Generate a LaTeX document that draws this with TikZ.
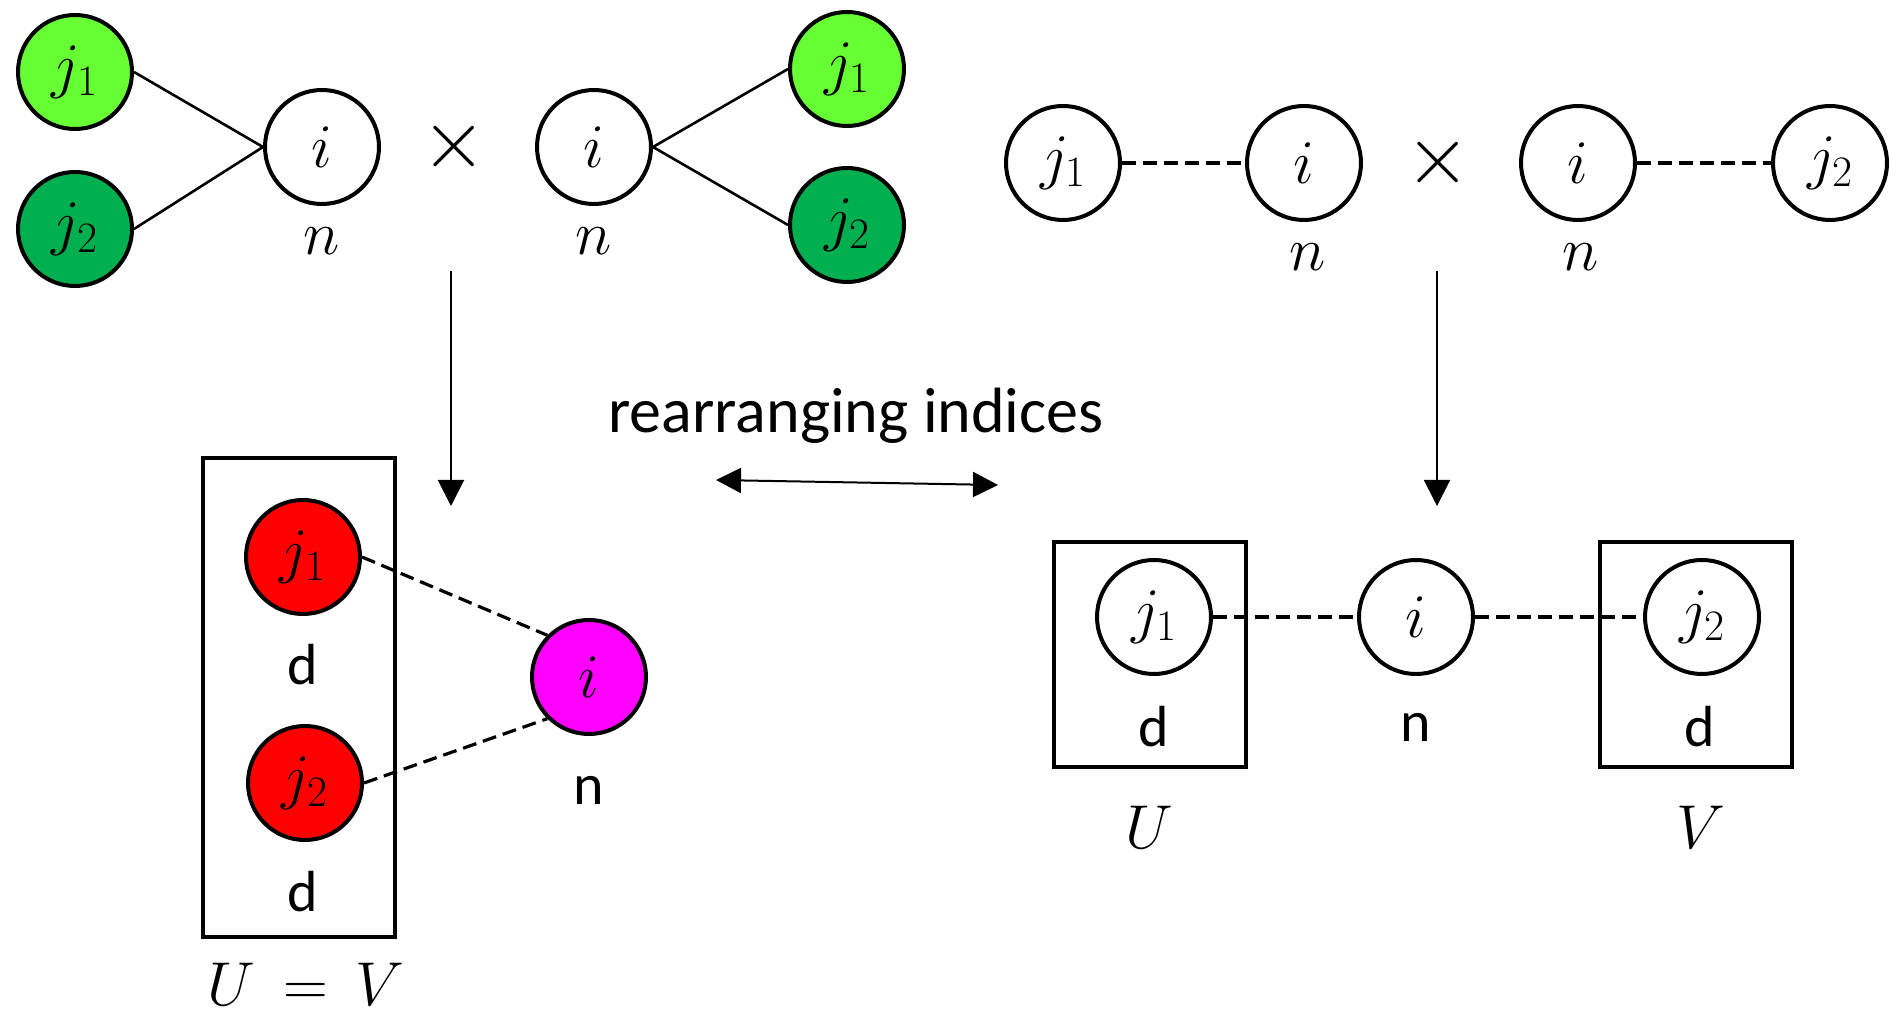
\RequirePackage{fix-cm}
\documentclass[tikz,border=0pt]{standalone}
\usepackage{fontspec}
\setsansfont{Carlito}
\usetikzlibrary{arrows.meta}
\definecolor{lgreen}{RGB}{102,255,51}
\definecolor{dgreen}{RGB}{0,176,80}
\definecolor{mred}{RGB}{255,0,0}
\definecolor{mmag}{RGB}{255,0,255}
\begin{document}
\begin{tikzpicture}[x=0.5pt,y=-0.5pt,
  vnode/.style={circle, draw, line width=2pt, minimum size=57pt, inner sep=0pt, font=\fontsize{31}{31}\selectfont},
  mlab/.style={inner sep=0pt, font=\fontsize{31}{31}\selectfont},
  xlab/.style={inner sep=0pt, font=\fontsize{42}{42}\selectfont},
  slab/.style={inner sep=0pt, font=\sffamily\fontsize{29}{29}\selectfont},
  tlab/.style={inner sep=0pt, font=\sffamily\fontsize{32}{32}\selectfont},
  platebox/.style={draw, line width=2pt, inner sep=0pt},
  solidedge/.style={line width=1.3pt},
  dashedge/.style={line width=1.6pt, dash pattern=on 7pt off 3.5pt},
  flow/.style={line width=1pt, -{Triangle[width=13pt,length=13pt]}},
  both/.style={line width=1pt, {Triangle[width=12.5pt,length=12.5pt]}-{Triangle[width=12.5pt,length=12.5pt]}}]
\useasboundingbox (0,0) rectangle (1890,1015);
% top-left product
\node[vnode, fill=lgreen] (tlj1) at (75,72) {$j_1$};
\node[vnode, fill=dgreen] (tlj2) at (75,229) {$j_2$};
\node[vnode] (tli) at (322,147) {$i$};
\node[mlab] (tln) at (322,241) {$n$};
\node[xlab] (tx1) at (454,147) {$\times$};
\node[vnode] (tmi) at (594,147) {$i$};
\node[mlab] (tmn) at (594,241) {$n$};
\node[vnode, fill=lgreen] (trj1) at (847,69) {$j_1$};
\node[vnode, fill=dgreen] (trj2) at (847,225) {$j_2$};
\draw[solidedge] (tlj1.east) -- (tli.west);
\draw[solidedge] (tlj2.east) -- (tli.west);
\draw[solidedge] (tmi.east) -- (trj1.west);
\draw[solidedge] (tmi.east) -- (trj2.west);
% top-right product
\node[vnode] (rj1) at (1063,163) {$j_1$};
\node[vnode] (ri1) at (1304,163) {$i$};
\node[mlab] (rn1) at (1308,257) {$n$};
\node[xlab] (tx2) at (1438,163) {$\times$};
\node[vnode] (ri2) at (1578,163) {$i$};
\node[mlab] (rn2) at (1581,257) {$n$};
\node[vnode] (rj2) at (1830,163) {$j_2$};
\draw[dashedge] (rj1) -- (ri1);
\draw[dashedge] (ri2) -- (rj2);
% arrows
\coordinate (a1s) at (451,271);
\coordinate (a1e) at (451,506);
\coordinate (a2s) at (1437,271);
\coordinate (a2e) at (1437,506);
\draw[flow] (a1s) -- (a1e);
\draw[flow] (a2s) -- (a2e);
\node[tlab] (rearr) at (856,416) {rearranging indices};
\coordinate (ba) at (716,480);
\coordinate (bb) at (998,485);
\draw[both] (ba) -- (bb);
% bottom-left
\node[platebox, minimum width=96pt, minimum height=239.5pt] (boxUV) at (299,697.5) {};
\node[vnode, fill=mred] (blj1) at (303,557) {$j_1$};
\node[slab] (bld1) at (303,665) {d};
\node[vnode, fill=mred] (blj2) at (305,783) {$j_2$};
\node[slab] (bld2) at (303,892) {d};
\node[vnode, fill=mmag] (bli) at (589,677) {$i$};
\node[slab] (bln) at (589,790) {n};
\node[mlab] (bluv) at (306,984) {$U\,=\,V$};
\draw[dashedge] (blj1.east) -- (bli.north west);
\draw[dashedge] (blj2.east) -- (bli.south west);
% bottom-right
\node[platebox, minimum width=96pt, minimum height=112.5pt] (boxU) at (1150,654.5) {};
\node[platebox, minimum width=96pt, minimum height=112.5pt] (boxV) at (1696,654.5) {};
\node[vnode, fill=white] (brj1) at (1154,617) {$j_1$};
\node[slab] (brd1) at (1154,727) {d};
\node[vnode, fill=white] (bri) at (1416,617) {$i$};
\node[slab] (brn) at (1416,727) {n};
\node[vnode, fill=white] (brj2) at (1702,617) {$j_2$};
\node[slab] (brd2) at (1700,727) {d};
\node[mlab] (brU) at (1149,827) {$U$};
\node[mlab] (brV) at (1701,827) {$V$};
\draw[dashedge] (brj1) -- (bri);
\draw[dashedge] (bri) -- (brj2);
\end{tikzpicture}
\end{document}
